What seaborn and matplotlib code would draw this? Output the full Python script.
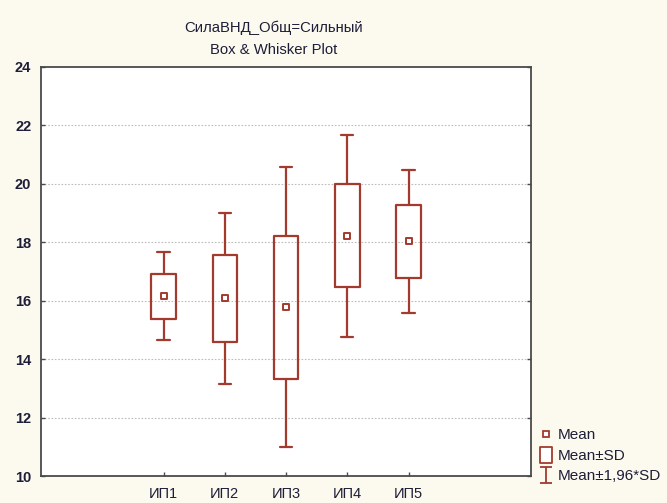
import numpy as np
import pandas as pd
import matplotlib
matplotlib.use("Agg")
import matplotlib.pyplot as plt
from matplotlib.path import Path
from matplotlib.lines import Line2D
import seaborn as sns

# Group summary statistics
categories = ["ИП1", "ИП2", "ИП3", "ИП4", "ИП5"]
means = [16.16, 16.08, 15.78, 18.22, 18.03]
sds = [0.77, 1.49, 2.45, 1.76, 1.25]
z_factor = 1.96
y_ticks = [10, 12, 14, 16, 18, 20, 22, 24]

title_line1 = "СилаВНД_Общ=Сильный"
title_line2 = "Box & Whisker Plot"
legend_labels = ["Mean", "Mean±SD", "Mean±1,96*SD"]

RED = "#A33A2E"
BG = "#FCF9EF"
TXT = "#1E1E38"

sns.set_theme(style="white")
plt.rcParams["font.family"] = ["Liberation Sans", "DejaVu Sans"]

df = pd.DataFrame({"group": categories, "mean": means, "sd": sds})
df["pos"] = np.arange(len(df))

fig = plt.figure(figsize=(6.67, 5.03), dpi=100, facecolor=BG)
ax = fig.add_axes([41 / 667, 1 - 476 / 503, 490 / 667, 409 / 503])
ax.set_facecolor("white")

# Boxes (mean ± SD) and whiskers (mean ± 1.96 SD)
stats = []
for m, s in zip(df["mean"], df["sd"]):
    stats.append({
        "med": m, "q1": m - s, "q3": m + s,
        "whislo": m - z_factor * s, "whishi": m + z_factor * s,
        "fliers": [],
    })
line_kw = dict(color=RED, linewidth=1.6)
ax.bxp(stats, positions=df["pos"], widths=0.4, capwidths=0.2,
       showfliers=False, patch_artist=False,
       boxprops=line_kw, whiskerprops=line_kw, capprops=line_kw,
       medianprops=dict(linewidth=0))

# Mean markers
sns.scatterplot(data=df, x="pos", y="mean", marker="s", s=24,
                facecolor="white", edgecolor=RED, linewidth=1.4,
                zorder=5, ax=ax, legend=False)

ax.set_xlim(-2, 6)
ax.set_ylim(10, 24)
ax.set_xticks(df["pos"])
ax.set_xticklabels(categories)
ax.set_yticks(y_ticks)
ax.set_xlabel("")
ax.set_ylabel("")

for yv in y_ticks[1:-1]:
    ax.axhline(yv, color="#BDBDBD", linewidth=0.8, linestyle=(0, (1.5, 1.5)), zorder=0)

for sp in ax.spines.values():
    sp.set_visible(True)
    sp.set_color("#4A4A4A")
    sp.set_linewidth(1.3)

ax.tick_params(axis="both", direction="in", length=3, width=1, color="#4A4A4A",
               labelcolor=TXT, left=True, bottom=True, right=True, top=False)
ax.tick_params(axis="y", pad=7, labelsize=10.5)
ax.tick_params(axis="x", pad=8, labelsize=10.5)
for lab in ax.get_yticklabels():
    lab.set_fontweight("bold")

# Title
fig.text(274 / 667, 1 - 28 / 503, title_line1, ha="center", va="center",
         fontsize=10.7, color=TXT)
fig.text(274 / 667, 1 - 50 / 503, title_line2, ha="center", va="center",
         fontsize=10.7, color=TXT)

# Legend
rect = Path([(-0.4, -0.5), (0.4, -0.5), (0.4, 0.5), (-0.4, 0.5), (-0.4, -0.5)],
            [Path.MOVETO, Path.LINETO, Path.LINETO, Path.LINETO, Path.CLOSEPOLY])
ibeam = Path([(-0.35, -0.5), (0.35, -0.5), (0, -0.5), (0, 0.5), (-0.35, 0.5), (0.35, 0.5)],
             [Path.MOVETO, Path.LINETO, Path.MOVETO, Path.LINETO, Path.MOVETO, Path.LINETO])
handles = [
    Line2D([], [], linestyle="none", marker="s", markersize=4.8,
           markerfacecolor="white", markeredgecolor=RED, markeredgewidth=1.3),
    Line2D([], [], linestyle="none", marker=rect, markersize=11,
           markerfacecolor="white", markeredgecolor=RED, markeredgewidth=1.3),
    Line2D([], [], linestyle="none", marker=ibeam, markersize=12,
           markerfacecolor="none", markeredgecolor=RED, markeredgewidth=1.3),
]
fig.legend(handles, legend_labels, loc="lower left",
           bbox_to_anchor=(528 / 667, 1 - 494 / 503), frameon=False,
           fontsize=11, labelcolor=TXT, handlelength=0.9, handletextpad=0.35,
           labelspacing=0.42, borderpad=0.2)

fig.savefig("out.png", dpi=100, facecolor=BG)
